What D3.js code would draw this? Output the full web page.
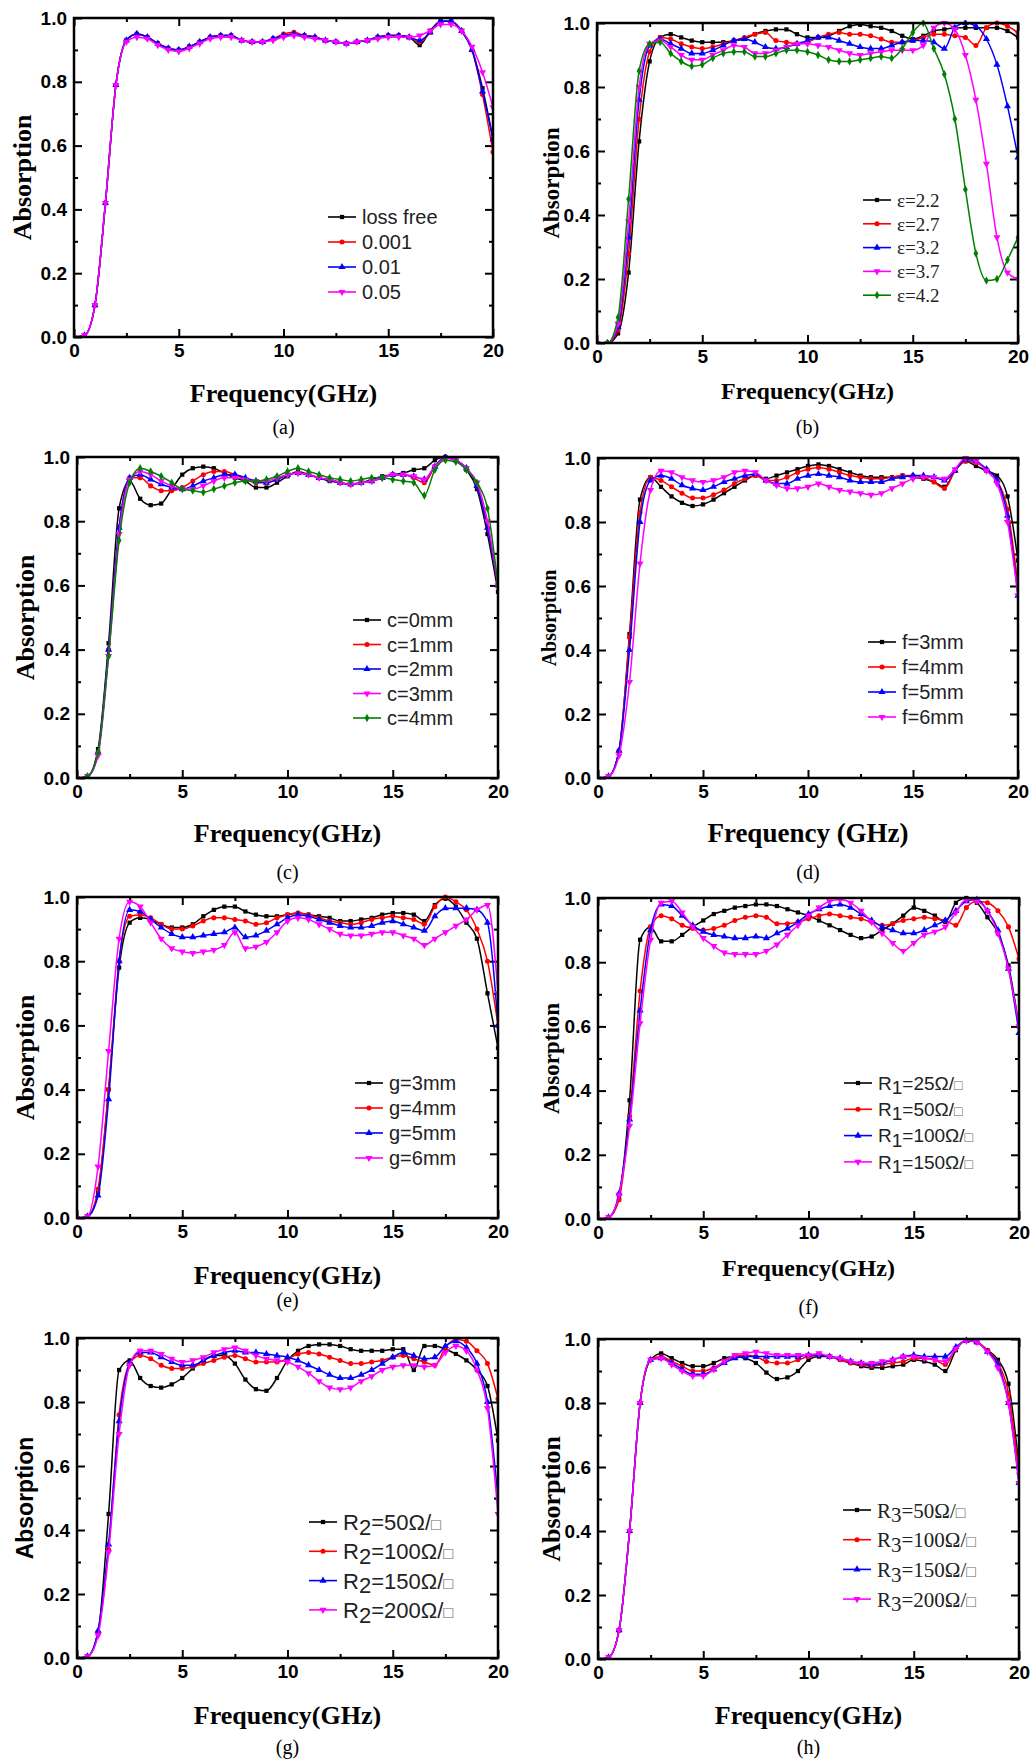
<!DOCTYPE html>
<html>
<head>
<meta charset="utf-8">
<script src="https://cdn.jsdelivr.net/npm/d3@7"></script>
<style>
body { margin: 0; background: #fff; }
</style>
</head>
<body>
<svg id="fig" width="1032" height="1759"></svg>
<script>
// frequency grid (GHz) shared by every curve
var freq = [0,0.5,1,1.5,2,2.5,3,3.5,4,4.5,5,5.5,6,6.5,7,7.5,8,8.5,9,9.5,10,10.5,11,11.5,12,12.5,13,13.5,14,14.5,15,15.5,16,16.5,17,17.5,18,18.5,19,19.5,20];
var xMajor = [0,5,10,15,20];
var xMinor = [2.5,7.5,12.5,17.5];
var yMajor = [0,0.2,0.4,0.6,0.8,1.0];
var yMinor = [0.1,0.3,0.5,0.7,0.9];

// (a) loss tangent
var aNames = ["loss free","0.001","0.01","0.05"];
var aLossFree = [0,0.005,0.10,0.42,0.79,0.93,0.95,0.94,0.92,0.905,0.90,0.91,0.925,0.94,0.945,0.945,0.93,0.925,0.925,0.935,0.945,0.95,0.945,0.94,0.93,0.925,0.92,0.925,0.93,0.94,0.945,0.945,0.94,0.915,0.96,0.99,0.99,0.96,0.90,0.78,0.62];
var a001 = [0,0.005,0.10,0.42,0.79,0.93,0.95,0.94,0.92,0.905,0.90,0.91,0.925,0.94,0.945,0.945,0.93,0.925,0.925,0.935,0.95,0.955,0.945,0.94,0.93,0.925,0.92,0.925,0.93,0.94,0.945,0.945,0.94,0.925,0.955,0.99,0.99,0.96,0.90,0.76,0.58];
var a01 = [0,0.005,0.10,0.42,0.79,0.93,0.95,0.94,0.92,0.905,0.90,0.91,0.925,0.94,0.945,0.945,0.93,0.925,0.925,0.935,0.945,0.95,0.945,0.94,0.93,0.925,0.92,0.925,0.93,0.94,0.945,0.945,0.94,0.93,0.955,0.99,0.99,0.96,0.90,0.77,0.62];
var a05 = [0,0.005,0.10,0.42,0.79,0.925,0.94,0.935,0.915,0.9,0.895,0.905,0.92,0.935,0.94,0.94,0.93,0.925,0.925,0.93,0.94,0.945,0.94,0.935,0.93,0.925,0.92,0.925,0.93,0.935,0.94,0.94,0.94,0.945,0.96,0.98,0.98,0.96,0.91,0.83,0.72];

// (b) permittivity
var bNames = ["\u03b5=2.2","\u03b5=2.7","\u03b5=3.2","\u03b5=3.7","\u03b5=4.2"];
var bEps22 = [0,0,0.03,0.22,0.63,0.88,0.955,0.965,0.955,0.945,0.94,0.94,0.94,0.945,0.95,0.965,0.975,0.98,0.98,0.965,0.955,0.955,0.96,0.975,0.99,0.995,0.99,0.985,0.975,0.96,0.95,0.96,0.975,0.98,0.985,0.985,0.985,0.985,0.985,0.975,0.955];
var bEps27 = [0,0,0.04,0.28,0.70,0.91,0.955,0.95,0.935,0.925,0.92,0.925,0.935,0.945,0.955,0.965,0.97,0.945,0.94,0.935,0.94,0.955,0.965,0.97,0.965,0.965,0.96,0.95,0.94,0.94,0.945,0.955,0.965,0.965,0.96,0.955,0.93,0.985,1.0,0.99,0.97];
var bEps32 = [0,0,0.05,0.33,0.76,0.93,0.95,0.935,0.92,0.905,0.905,0.915,0.93,0.945,0.95,0.94,0.925,0.92,0.925,0.935,0.945,0.955,0.955,0.945,0.935,0.925,0.92,0.92,0.93,0.94,0.945,0.945,0.94,0.92,0.985,1.0,0.99,0.95,0.87,0.74,0.58];
var bEps37 = [0,0,0.06,0.38,0.80,0.935,0.945,0.925,0.90,0.885,0.885,0.90,0.915,0.93,0.925,0.905,0.905,0.915,0.925,0.935,0.935,0.93,0.925,0.915,0.905,0.90,0.905,0.91,0.915,0.915,0.915,0.93,0.985,1.0,0.98,0.9,0.76,0.56,0.33,0.22,0.20];
var bEps42 = [0,0,0.08,0.45,0.85,0.935,0.94,0.905,0.88,0.865,0.87,0.89,0.905,0.91,0.91,0.895,0.895,0.905,0.915,0.915,0.91,0.90,0.885,0.88,0.88,0.885,0.89,0.895,0.89,0.92,0.97,1.0,0.92,0.84,0.70,0.48,0.28,0.195,0.20,0.26,0.33];

// (c) parameter c
var cNames = ["c=0mm","c=1mm","c=2mm","c=3mm","c=4mm"];
var cC0 = [0,0.005,0.09,0.42,0.84,0.925,0.87,0.85,0.855,0.9,0.945,0.965,0.97,0.965,0.95,0.935,0.925,0.905,0.905,0.92,0.94,0.955,0.945,0.935,0.925,0.92,0.915,0.92,0.93,0.94,0.945,0.95,0.96,0.965,0.99,1.0,0.99,0.96,0.9,0.76,0.58];
var cC1 = [0,0.005,0.08,0.40,0.78,0.935,0.935,0.91,0.895,0.895,0.905,0.925,0.945,0.955,0.955,0.945,0.93,0.92,0.92,0.93,0.945,0.95,0.945,0.935,0.93,0.92,0.915,0.92,0.925,0.935,0.945,0.945,0.935,0.92,0.97,1.0,0.99,0.965,0.91,0.78,0.6];
var cC2 = [0,0.005,0.08,0.40,0.78,0.935,0.945,0.93,0.915,0.905,0.9,0.91,0.925,0.935,0.945,0.945,0.935,0.925,0.92,0.93,0.945,0.95,0.945,0.935,0.93,0.92,0.915,0.92,0.925,0.935,0.945,0.945,0.94,0.93,0.97,1.0,0.99,0.965,0.91,0.78,0.6];
var cC3 = [0,0.005,0.07,0.38,0.76,0.93,0.955,0.945,0.925,0.91,0.9,0.9,0.91,0.925,0.935,0.935,0.93,0.925,0.925,0.935,0.945,0.95,0.945,0.935,0.93,0.92,0.915,0.92,0.925,0.935,0.945,0.945,0.94,0.93,0.97,0.995,0.99,0.965,0.92,0.8,0.6];
var cC4 = [0,0.005,0.08,0.38,0.74,0.92,0.965,0.955,0.94,0.92,0.9,0.895,0.89,0.9,0.91,0.92,0.925,0.925,0.93,0.94,0.955,0.965,0.955,0.945,0.935,0.93,0.925,0.93,0.935,0.935,0.93,0.925,0.92,0.88,0.96,0.99,0.985,0.96,0.92,0.84,0.6];

// (d) parameter f
var dNames = ["f=3mm","f=4mm","f=5mm","f=6mm"];
var dF3 = [0,0.005,0.085,0.45,0.87,0.94,0.91,0.88,0.86,0.85,0.855,0.87,0.89,0.91,0.93,0.945,0.935,0.945,0.955,0.965,0.975,0.98,0.975,0.965,0.955,0.945,0.94,0.94,0.94,0.945,0.94,0.935,0.925,0.91,0.96,0.99,0.975,0.96,0.945,0.88,0.68];
var dF4 = [0,0.005,0.085,0.44,0.83,0.94,0.93,0.91,0.89,0.875,0.875,0.885,0.9,0.92,0.935,0.945,0.93,0.93,0.94,0.955,0.965,0.97,0.965,0.955,0.945,0.94,0.935,0.935,0.94,0.945,0.945,0.94,0.925,0.905,0.96,0.99,0.985,0.965,0.93,0.84,0.6];
var dF5 = [0,0.005,0.085,0.40,0.80,0.93,0.945,0.935,0.915,0.905,0.9,0.91,0.925,0.935,0.945,0.95,0.93,0.92,0.92,0.935,0.945,0.95,0.945,0.94,0.93,0.925,0.925,0.925,0.935,0.94,0.945,0.945,0.94,0.93,0.96,0.995,0.99,0.965,0.93,0.82,0.57];
var dF6 = [0,0.005,0.07,0.30,0.67,0.90,0.96,0.955,0.94,0.93,0.925,0.93,0.94,0.955,0.96,0.955,0.93,0.915,0.905,0.905,0.91,0.92,0.91,0.9,0.895,0.89,0.885,0.89,0.905,0.92,0.935,0.94,0.94,0.935,0.965,1.0,0.99,0.96,0.92,0.8,0.57];

// (e) parameter g
var eNames = ["g=3mm","g=4mm","g=5mm","g=6mm"];
var eG3 = [0,0.005,0.08,0.40,0.78,0.92,0.935,0.93,0.915,0.905,0.905,0.915,0.94,0.96,0.97,0.97,0.955,0.945,0.94,0.94,0.945,0.95,0.945,0.94,0.935,0.925,0.925,0.93,0.935,0.945,0.95,0.95,0.945,0.925,0.975,0.995,0.97,0.92,0.87,0.7,0.53];
var eG4 = [0,0.005,0.09,0.40,0.80,0.94,0.945,0.935,0.915,0.9,0.9,0.91,0.925,0.935,0.935,0.93,0.925,0.915,0.92,0.935,0.945,0.95,0.945,0.935,0.925,0.92,0.915,0.92,0.93,0.935,0.94,0.935,0.93,0.915,0.97,1.0,0.985,0.96,0.9,0.8,0.6];
var eG5 = [0,0.005,0.07,0.37,0.80,0.96,0.955,0.93,0.905,0.885,0.875,0.875,0.88,0.885,0.89,0.905,0.875,0.88,0.895,0.915,0.935,0.945,0.94,0.93,0.92,0.91,0.905,0.905,0.91,0.92,0.925,0.915,0.905,0.895,0.94,0.965,0.965,0.965,0.96,0.92,0.6];
var eG6 = [0,0.005,0.16,0.52,0.87,0.985,0.97,0.92,0.87,0.84,0.83,0.825,0.83,0.835,0.85,0.89,0.84,0.845,0.86,0.89,0.925,0.935,0.93,0.915,0.9,0.885,0.88,0.88,0.885,0.89,0.89,0.88,0.87,0.85,0.87,0.89,0.91,0.93,0.96,0.975,0.7];

// (f) sheet resistance R1
var fNames = ["R1=25\u03a9/\u25a1","R1=50\u03a9/\u25a1","R1=100\u03a9/\u25a1","R1=150\u03a9/\u25a1"];
var fR25 = [0,0.005,0.07,0.37,0.87,0.91,0.865,0.865,0.885,0.91,0.93,0.95,0.96,0.97,0.975,0.98,0.98,0.975,0.965,0.955,0.945,0.93,0.915,0.9,0.885,0.875,0.88,0.9,0.92,0.945,0.97,0.96,0.945,0.925,0.985,1.0,0.985,0.94,0.89,0.79,0.6];
var fR50 = [0,0.005,0.06,0.32,0.71,0.91,0.945,0.935,0.915,0.905,0.9,0.905,0.915,0.93,0.94,0.945,0.94,0.92,0.92,0.925,0.935,0.945,0.95,0.945,0.94,0.935,0.925,0.915,0.92,0.93,0.935,0.94,0.935,0.93,0.915,0.97,0.99,0.985,0.96,0.91,0.81];
var fR100 = [0,0.005,0.08,0.31,0.65,0.9,0.98,0.975,0.945,0.915,0.895,0.885,0.88,0.875,0.875,0.88,0.875,0.89,0.905,0.925,0.95,0.965,0.975,0.98,0.97,0.95,0.93,0.91,0.9,0.89,0.89,0.9,0.915,0.93,0.96,0.99,0.995,0.96,0.9,0.78,0.58];
var fR150 = [0,0.005,0.075,0.29,0.61,0.87,0.985,0.99,0.955,0.91,0.875,0.85,0.83,0.825,0.825,0.825,0.835,0.855,0.885,0.915,0.945,0.97,0.99,0.995,0.985,0.96,0.925,0.89,0.86,0.835,0.86,0.885,0.895,0.91,0.955,0.995,0.99,0.96,0.89,0.78,0.6];

// (g) sheet resistance R2
var gNames = ["R2=50\u03a9/\u25a1","R2=100\u03a9/\u25a1","R2=150\u03a9/\u25a1","R2=200\u03a9/\u25a1"];
var gR50 = [0,0.005,0.08,0.45,0.9,0.93,0.875,0.85,0.845,0.855,0.875,0.905,0.93,0.945,0.945,0.92,0.87,0.84,0.835,0.875,0.93,0.96,0.975,0.98,0.98,0.975,0.965,0.96,0.96,0.96,0.965,0.965,0.9,0.975,0.975,0.965,0.95,0.93,0.9,0.85,0.68];
var gR100 = [0,0.005,0.08,0.34,0.76,0.92,0.945,0.935,0.915,0.905,0.905,0.91,0.92,0.93,0.94,0.945,0.935,0.925,0.925,0.925,0.935,0.95,0.955,0.95,0.94,0.93,0.92,0.92,0.925,0.93,0.94,0.945,0.935,0.925,0.915,0.97,0.995,0.99,0.96,0.92,0.81];
var gR150 = [0,0.005,0.085,0.355,0.74,0.92,0.955,0.955,0.94,0.925,0.915,0.915,0.93,0.945,0.955,0.96,0.955,0.955,0.95,0.945,0.94,0.93,0.915,0.9,0.885,0.875,0.875,0.885,0.9,0.92,0.94,0.955,0.945,0.935,0.94,0.975,0.99,0.97,0.92,0.8,0.5];
var gR200 = [0,0.005,0.07,0.33,0.7,0.915,0.96,0.96,0.95,0.935,0.925,0.93,0.94,0.955,0.965,0.97,0.96,0.945,0.935,0.93,0.925,0.91,0.89,0.865,0.845,0.84,0.845,0.865,0.88,0.9,0.91,0.915,0.915,0.91,0.915,0.955,0.975,0.96,0.9,0.78,0.45];

// (h) sheet resistance R3
var hNames = ["R3=50\u03a9/\u25a1","R3=100\u03a9/\u25a1","R3=150\u03a9/\u25a1","R3=200\u03a9/\u25a1"];
var hR50 = [0,0.005,0.09,0.40,0.8,0.935,0.955,0.94,0.925,0.915,0.915,0.925,0.94,0.945,0.94,0.925,0.895,0.875,0.88,0.9,0.935,0.945,0.945,0.935,0.925,0.915,0.91,0.91,0.915,0.92,0.935,0.93,0.92,0.9,0.965,0.995,0.99,0.965,0.935,0.86,0.6];
var hR100 = [0,0.005,0.09,0.40,0.8,0.935,0.945,0.93,0.915,0.9,0.9,0.91,0.93,0.945,0.95,0.945,0.93,0.925,0.925,0.935,0.945,0.95,0.945,0.935,0.925,0.92,0.915,0.92,0.925,0.93,0.94,0.94,0.935,0.92,0.97,0.995,0.99,0.965,0.925,0.83,0.58];
var hR150 = [0,0.005,0.09,0.40,0.8,0.935,0.94,0.925,0.905,0.89,0.89,0.905,0.925,0.94,0.945,0.945,0.945,0.945,0.945,0.945,0.95,0.95,0.945,0.94,0.93,0.925,0.92,0.925,0.935,0.945,0.95,0.945,0.945,0.945,0.975,0.995,0.99,0.96,0.92,0.8,0.55];
var hR200 = [0,0.005,0.09,0.40,0.8,0.935,0.94,0.92,0.9,0.885,0.885,0.905,0.93,0.95,0.955,0.96,0.955,0.95,0.95,0.95,0.95,0.955,0.945,0.94,0.93,0.925,0.925,0.93,0.935,0.945,0.945,0.94,0.935,0.93,0.97,0.995,0.99,0.96,0.91,0.8,0.55];

var SERIF = "'Liberation Serif','Times New Roman',serif";
var SANS = "'Liberation Sans',Arial,sans-serif";

var colors = { k: "#000000", r: "#ff0000", b: "#0000ff", m: "#ff00ff", g: "#008000" };

var panels = [
    { tag: "(a)", x0: 74, x1: 493, y0: 18, y1: 337, xlab: "Frequency(GHz)", xlabDy: 65, xlabSize: 26,
      ylabX: 22, ylabSize: 26, ylabFont: SERIF, tagY: 434,
      names: aNames, series: [[aLossFree,"k"],[a001,"r"],[a01,"b"],[a05,"m"]],
      leg: { x: 328, y: 217, dy: 25, size: 20, font: SANS } },
    { tag: "(b)", x0: 597, x1: 1018, y0: 23, y1: 343, xlab: "Frequency(GHz)", xlabDy: 56, xlabSize: 24,
      ylabX: 551, ylabSize: 23, ylabFont: SERIF, tagY: 434,
      names: bNames, series: [[bEps22,"k"],[bEps27,"r"],[bEps32,"b"],[bEps37,"m"],[bEps42,"g"]],
      leg: { x: 863, y: 200, dy: 23.8, size: 19, font: SERIF } },
    { tag: "(c)", x0: 77, x1: 498, y0: 457, y1: 778, xlab: "Frequency(GHz)", xlabDy: 64, xlabSize: 26,
      ylabX: 25, ylabSize: 26, ylabFont: SERIF, tagY: 879,
      names: cNames, series: [[cC0,"k"],[cC1,"r"],[cC2,"b"],[cC3,"m"],[cC4,"g"]],
      leg: { x: 353, y: 620, dy: 24.5, size: 20, font: SANS } },
    { tag: "(d)", x0: 598, x1: 1018, y0: 458, y1: 778, xlab: "Frequency (GHz)", xlabDy: 64, xlabSize: 27,
      ylabX: 549, ylabSize: 20, ylabFont: SERIF, tagY: 879,
      names: dNames, series: [[dF3,"k"],[dF4,"r"],[dF5,"b"],[dF6,"m"]],
      leg: { x: 868, y: 642, dy: 25, size: 20, font: SANS } },
    { tag: "(e)", x0: 77, x1: 498, y0: 897, y1: 1218, xlab: "Frequency(GHz)", xlabDy: 66, xlabSize: 26,
      ylabX: 25, ylabSize: 26, ylabFont: SERIF, tagY: 1307,
      names: eNames, series: [[eG3,"k"],[eG4,"r"],[eG5,"b"],[eG6,"m"]],
      leg: { x: 355, y: 1083, dy: 25, size: 20, font: SANS } },
    { tag: "(f)", x0: 598, x1: 1019, y0: 898, y1: 1219, xlab: "Frequency(GHz)", xlabDy: 57, xlabSize: 24,
      ylabX: 551, ylabSize: 23, ylabFont: SERIF, tagY: 1314,
      names: fNames, series: [[fR25,"k"],[fR50,"r"],[fR100,"b"],[fR150,"m"]],
      leg: { x: 844, y: 1083, dy: 26.3, size: 19, font: SANS } },
    { tag: "(g)", x0: 77, x1: 498, y0: 1338, y1: 1658, xlab: "Frequency(GHz)", xlabDy: 66, xlabSize: 26,
      ylabX: 25, ylabSize: 23, ylabFont: SANS, tagY: 1754,
      names: gNames, series: [[gR50,"k"],[gR100,"r"],[gR150,"b"],[gR200,"m"]],
      leg: { x: 309, y: 1522, dy: 29.3, size: 22, font: SANS } },
    { tag: "(h)", x0: 598, x1: 1019, y0: 1339, y1: 1659, xlab: "Frequency(GHz)", xlabDy: 65, xlabSize: 26,
      ylabX: 551, ylabSize: 26, ylabFont: SERIF, tagY: 1754,
      names: hNames, series: [[hR50,"k"],[hR100,"r"],[hR150,"b"],[hR200,"m"]],
      leg: { x: 843, y: 1510, dy: 29.7, size: 21, font: SERIF } }
];

var svg = d3.select("#fig");

function markerPath(key) {
    if (key === "k") return d3.symbol().type(d3.symbolSquare).size(18)();
    if (key === "r") return d3.symbol().type(d3.symbolCircle).size(20)();
    if (key === "g") return d3.symbol().type(d3.symbolDiamond).size(20)();
    return d3.symbol().type(d3.symbolTriangle).size(22)();
}
function markerRot(key) {
    return key === "m" ? " rotate(180)" : "";
}

function writeLabel(text, label) {
    var m = /^R(\d)(.*)\u25a1$/.exec(label);
    if (!m) { text.text(label); return; }
    text.append("tspan").text("R");
    text.append("tspan").attr("dy", "0.22em").text(m[1]);
    text.append("tspan").attr("dy", "-0.22em").text(m[2]);
    text.append("tspan").attr("fill", "#666").attr("font-size", "0.75em").text("\u25a1");
}

panels.forEach(function(p, pi) {
    var x = d3.scaleLinear().domain([0, 20]).range([p.x0, p.x1]);
    var y = d3.scaleLinear().domain([0, 1]).range([p.y1, p.y0]);
    var g = svg.append("g").attr("class", "panel");

    g.append("clipPath").attr("id", "clip" + pi)
        .append("rect")
        .attr("x", p.x0).attr("y", p.y0 - 3)
        .attr("width", p.x1 - p.x0).attr("height", p.y1 - p.y0 + 3);

    // ticks, all pointing inward
    function styleAxis(sel) {
        sel.select(".domain").remove();
        sel.selectAll(".tick line").attr("stroke", "#000").attr("stroke-width", 2);
        sel.selectAll("text").attr("font-family", SANS).attr("font-weight", "bold")
            .attr("font-size", 19).attr("fill", "#000");
    }
    g.append("g").attr("transform", "translate(0," + p.y1 + ")")
        .call(d3.axisBottom(x).tickValues(xMajor).tickSize(-8).tickPadding(7).tickFormat(d3.format("d")))
        .call(styleAxis);
    g.append("g").attr("transform", "translate(0," + p.y1 + ")")
        .call(d3.axisBottom(x).tickValues(xMinor).tickSize(-4).tickFormat(""))
        .call(styleAxis);
    g.append("g").attr("transform", "translate(0," + p.y0 + ")")
        .call(d3.axisTop(x).tickValues(xMajor).tickSize(-8).tickFormat(""))
        .call(styleAxis);
    g.append("g").attr("transform", "translate(0," + p.y0 + ")")
        .call(d3.axisTop(x).tickValues(xMinor).tickSize(-4).tickFormat(""))
        .call(styleAxis);
    g.append("g").attr("transform", "translate(" + p.x0 + ",0)")
        .call(d3.axisLeft(y).tickValues(yMajor).tickSize(-8).tickPadding(7).tickFormat(d3.format(".1f")))
        .call(styleAxis);
    g.append("g").attr("transform", "translate(" + p.x0 + ",0)")
        .call(d3.axisLeft(y).tickValues(yMinor).tickSize(-4).tickFormat(""))
        .call(styleAxis);
    g.append("g").attr("transform", "translate(" + p.x1 + ",0)")
        .call(d3.axisRight(y).tickValues(yMajor).tickSize(-8).tickFormat(""))
        .call(styleAxis);
    g.append("g").attr("transform", "translate(" + p.x1 + ",0)")
        .call(d3.axisRight(y).tickValues(yMinor).tickSize(-4).tickFormat(""))
        .call(styleAxis);

    // curves
    var line = d3.line()
        .x(function(d, i) { return x(freq[i]); })
        .y(function(d) { return y(d); })
        .curve(d3.curveMonotoneX);

    var plot = g.append("g").attr("clip-path", "url(#clip" + pi + ")");
    p.series.forEach(function(s) {
        var vals = s[0], key = s[1];
        plot.append("path")
            .datum(vals)
            .attr("d", line)
            .attr("fill", "none")
            .attr("stroke", colors[key])
            .attr("stroke-width", 1.5);
        plot.selectAll(null)
            .data(vals)
            .enter().append("path")
            .attr("d", markerPath(key))
            .attr("transform", function(d, i) {
                return "translate(" + x(freq[i]) + "," + y(d) + ")" + markerRot(key);
            })
            .attr("fill", colors[key]);
    });

    // frame
    g.append("rect")
        .attr("x", p.x0).attr("y", p.y0)
        .attr("width", p.x1 - p.x0).attr("height", p.y1 - p.y0)
        .attr("fill", "none").attr("stroke", "#000").attr("stroke-width", 2.5);

    // legend
    var L = p.leg;
    p.series.forEach(function(s, i) {
        var key = s[1], ly = L.y + i * L.dy;
        g.append("line")
            .attr("x1", L.x).attr("x2", L.x + 28)
            .attr("y1", ly).attr("y2", ly)
            .attr("stroke", colors[key]).attr("stroke-width", 1.6);
        g.append("path")
            .attr("d", markerPath(key))
            .attr("transform", "translate(" + (L.x + 14) + "," + ly + ")" + markerRot(key))
            .attr("fill", colors[key]);
        var t = g.append("text")
            .attr("x", L.x + 34).attr("y", ly).attr("dy", "0.36em")
            .attr("font-family", L.font).attr("font-size", L.size).attr("fill", "#222");
        writeLabel(t, p.names[i]);
    });

    // axis titles
    g.append("text")
        .attr("x", (p.x0 + p.x1) / 2).attr("y", p.y1 + p.xlabDy)
        .attr("text-anchor", "middle")
        .attr("font-family", SERIF).attr("font-weight", "bold")
        .attr("font-size", p.xlabSize)
        .text(p.xlab);
    g.append("text")
        .attr("transform", "translate(" + p.ylabX + "," + ((p.y0 + p.y1) / 2) + ") rotate(-90)")
        .attr("dy", "0.35em")
        .attr("text-anchor", "middle")
        .attr("font-family", p.ylabFont).attr("font-weight", "bold")
        .attr("font-size", p.ylabSize)
        .text("Absorption");
    g.append("text")
        .attr("x", (p.x0 + p.x1) / 2).attr("y", p.tagY)
        .attr("text-anchor", "middle")
        .attr("font-family", SERIF).attr("font-size", 20)
        .text(p.tag);
});
</script>
</body>
</html>
